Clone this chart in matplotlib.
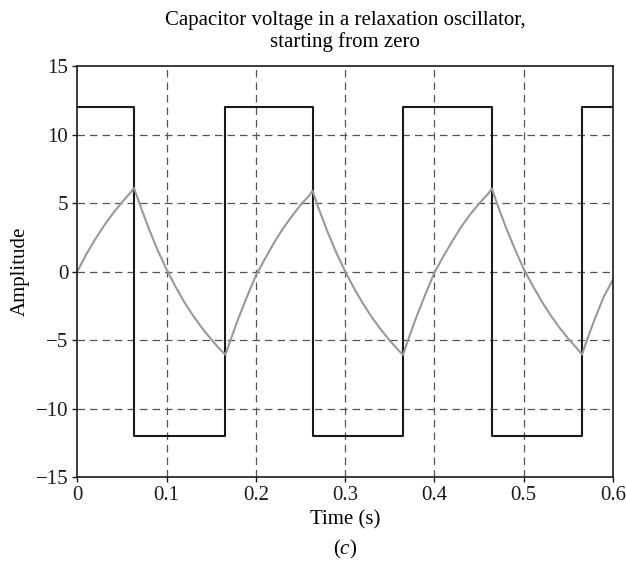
import matplotlib
matplotlib.use("Agg")
import matplotlib.pyplot as plt

plt.rcParams['font.family'] = ['Liberation Serif', 'DejaVu Serif']
plt.rcParams['mathtext.fontset'] = 'custom'
plt.rcParams['mathtext.rm'] = 'Liberation Serif'
plt.rcParams['mathtext.it'] = 'Liberation Serif:italic'

# comparator output: switching instants and levels (step, held after each instant)
switch_t = [0.0, 0.0635, 0.166, 0.2635, 0.365, 0.4645, 0.5655, 0.6]
switch_v = [12, -12, 12, -12, 12, -12, 12, 12]

# capacitor voltage
cap_t = [0.0, 0.01, 0.02, 0.03, 0.04, 0.05, 0.06, 0.0635,
         0.07, 0.08, 0.09, 0.10, 0.11, 0.12, 0.13, 0.14, 0.15, 0.16, 0.166,
         0.17, 0.18, 0.19, 0.20, 0.21, 0.22, 0.23, 0.24, 0.25, 0.26, 0.2635,
         0.27, 0.28, 0.29, 0.30, 0.31, 0.32, 0.33, 0.34, 0.35, 0.36, 0.365,
         0.37, 0.38, 0.39, 0.40, 0.41, 0.42, 0.43, 0.44, 0.45, 0.46, 0.4645,
         0.47, 0.48, 0.49, 0.50, 0.51, 0.52, 0.53, 0.54, 0.55, 0.56, 0.5655,
         0.57, 0.58, 0.59, 0.60]
cap_v = [0.0, 1.25, 2.35, 3.35, 4.25, 5.05, 5.8, 6.1,
         4.9, 3.15, 1.55, 0.15, -1.1, -2.25, -3.25, -4.15, -4.95, -5.7, -6.07,
         -5.3, -3.5, -1.85, -0.3, 0.9, 2.05, 3.1, 4.0, 4.85, 5.55, 5.9,
         4.67, 2.95, 1.4, 0.02, -1.22, -2.34, -3.34, -4.23, -5.04, -5.76, -6.08,
         -5.1, -3.3, -1.65, -0.1, 1.1, 2.2, 3.25, 4.15, 4.95, 5.65, 6.06,
         5.0, 3.25, 1.67, 0.2, -1.01, -2.15, -3.17, -4.08, -4.9, -5.63, -6.06,
         -5.19, -3.42, -1.82, -0.6]

xticks = [0, 0.1, 0.2, 0.3, 0.4, 0.5, 0.6]
xtick_labels = ['0', '0.1', '0.2', '0.3', '0.4', '0.5', '0.6']
yticks = [-15, -10, -5, 0, 5, 10, 15]

fig = plt.figure(figsize=(6.26, 5.77), dpi=100, facecolor='w')
ax = fig.add_axes([0.1235, 0.1733, 0.8555, 0.7123])

ax.step(switch_t, switch_v, where='post', color='#1a1a1a', lw=1.5)
ax.plot(cap_t, cap_v, color='#999999', lw=1.5)

ax.set_xlim(0, 0.6)
ax.set_ylim(-15, 15)
ax.set_xticks(xticks)
ax.set_xticklabels(xtick_labels)
ax.set_yticks(yticks)
ax.tick_params(direction='out', length=3.5, width=1, pad=3, labelsize=15, colors='#1a1a1a')

for v in xticks[1:-1]:
    ax.axvline(v, color='#555555', lw=0.9, ls=(0, (6, 4)), zorder=0)
for v in yticks[1:-1]:
    ax.axhline(v, color='#555555', lw=0.9, ls=(0, (6, 4)), zorder=0)

for spine in ax.spines.values():
    spine.set_color('#1a1a1a')
    spine.set_linewidth(1.2)

ax.set_xlabel('Time (s)', fontsize=15, va='center')
ax.xaxis.set_label_coords(0.5, -0.104)
ax.set_ylabel('Amplitude', fontsize=15, va='center')
ax.yaxis.set_label_coords(-0.106, 0.5)
ax.set_title('Capacitor voltage in a relaxation oscillator,\nstarting from zero',
             fontsize=15, pad=13.6, linespacing=1.15)

fig.text(0.5505, 0.048, r'($\it{c}$)', ha='center', va='center', fontsize=15)

fig.savefig('out.png', dpi=100)
